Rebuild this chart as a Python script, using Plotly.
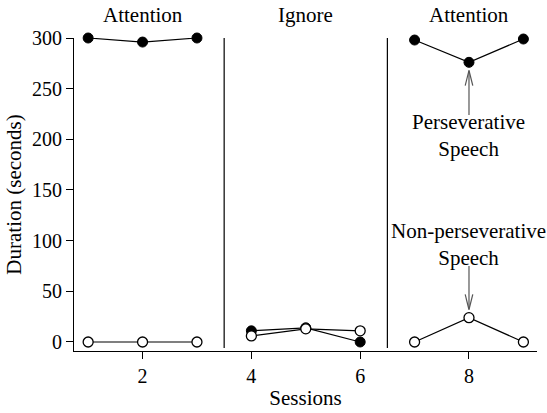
import plotly.graph_objects as go

sessions = [1, 2, 3, 4, 5, 6, 7, 8, 9]
phase_of_session = ["Attention", "Attention", "Attention", "Ignore", "Ignore", "Ignore",
                    "Attention", "Attention", "Attention"]
perseverative = [300, 296, 300, 11, 14, 0, 298, 276, 299]
non_perseverative = [0, 0, 0, 6, 13, 11, 0, 24, 0]
phase_labels = ["Attention", "Ignore", "Attention"]
phase_label_x = [2, 5, 8]
phase_changes = [3.5, 6.5]
x_ticks = [2, 4, 6, 8]
y_ticks = [0, 50, 100, 150, 200, 250, 300]

FONT = "Liberation Serif"
TXT = 21
TICK = 20


def broken(xs, ys, groups):
    ox, oy = [], []
    for i, (x, y) in enumerate(zip(xs, ys)):
        if i > 0 and groups[i] != groups[i - 1]:
            ox.append(None)
            oy.append(None)
        ox.append(x)
        oy.append(y)
    return ox, oy

blocks = []
b = 0
for i, p in enumerate(phase_of_session):
    if i > 0 and p != phase_of_session[i - 1]:
        b += 1
    blocks.append(b)

fig = go.Figure()
px, py = broken(sessions, perseverative, blocks)
nx, ny = broken(sessions, non_perseverative, blocks)
fig.add_trace(go.Scatter(x=px, y=py, mode="lines+markers", cliponaxis=False,
                         line=dict(color="black", width=1.2),
                         marker=dict(size=10, color="black", line=dict(color="black", width=1))))
fig.add_trace(go.Scatter(x=nx, y=ny, mode="lines+markers", cliponaxis=False,
                         line=dict(color="black", width=1.2),
                         marker=dict(size=10, color="white", line=dict(color="black", width=1.3))))

for xc in phase_changes:
    fig.add_shape(type="line", x0=xc, x1=xc, y0=-6, y1=300, xref="x", yref="y",
                  line=dict(color="black", width=1.2))

for lbl, xl in zip(phase_labels, phase_label_x):
    fig.add_annotation(x=xl, y=1, xref="x", yref="paper", yanchor="bottom", yshift=9,
                       text=lbl, showarrow=False, font=dict(family=FONT, size=TXT, color="black"))

arrow_color = "#555555"
ann_x = 8
fig.add_shape(type="line", x0=ann_x, x1=ann_x, y0=224, y1=267, line=dict(color=arrow_color, width=1.2))
fig.add_shape(type="line", x0=ann_x - 0.07, x1=ann_x, y0=253, y1=268, line=dict(color=arrow_color, width=1.2))
fig.add_shape(type="line", x0=ann_x + 0.07, x1=ann_x, y0=253, y1=268, line=dict(color=arrow_color, width=1.2))
fig.add_annotation(x=ann_x, y=204, text="Perseverative<br>Speech", showarrow=False,
                   font=dict(family=FONT, size=TXT, color="black"))
fig.add_shape(type="line", x0=ann_x, x1=ann_x, y0=75, y1=33, line=dict(color=arrow_color, width=1.2))
fig.add_shape(type="line", x0=ann_x - 0.07, x1=ann_x, y0=47, y1=32, line=dict(color=arrow_color, width=1.2))
fig.add_shape(type="line", x0=ann_x + 0.07, x1=ann_x, y0=47, y1=32, line=dict(color=arrow_color, width=1.2))
fig.add_annotation(x=ann_x, y=96, text="Non-perseverative<br>Speech", showarrow=False,
                   font=dict(family=FONT, size=TXT, color="black"))

fig.update_layout(
    width=547, height=413,
    margin=dict(l=74, r=10, t=38, b=62),
    paper_bgcolor="white", plot_bgcolor="white",
    showlegend=False,
    font=dict(family=FONT, size=TICK, color="black"),
    xaxis=dict(range=[0.74, 9.25], tickvals=x_ticks, ticks="outside", ticklen=7,
               tickwidth=1, tickcolor="black", showline=True, linecolor="black",
               linewidth=1.2, showgrid=False, zeroline=False, automargin=False,
               title=dict(text="Sessions", standoff=4, font=dict(size=TXT)),
               tickfont=dict(size=TICK)),
    yaxis=dict(range=[-8.9, 300], tickvals=y_ticks, ticks="outside", ticklen=7,
               tickwidth=1, tickcolor="black", showline=True, linecolor="black",
               linewidth=1.2, showgrid=False, zeroline=False, automargin=False,
               title=dict(text="Duration (seconds)", standoff=4, font=dict(size=TXT)),
               tickfont=dict(size=TICK)),
)

fig.write_html("out.html", config={"displayModeBar": False},
               post_script="document.body.style.margin='0';")
